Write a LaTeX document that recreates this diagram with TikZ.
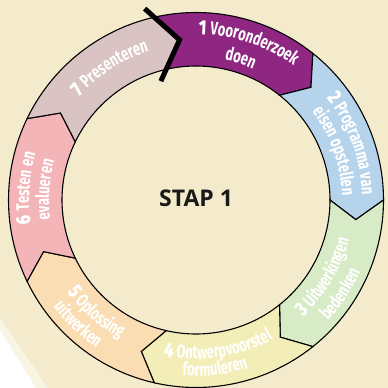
\documentclass[tikz,border=0pt]{standalone}
\usepackage{fontspec}
\setmainfont{Open Sans}
\newfontfamily\condf[FakeStretch=0.7]{Fira Sans}
\newfontfamily\condn[FakeStretch=0.8,BoldFeatures={FakeBold=1.2}]{Fira Sans}
\usetikzlibrary{decorations.text,calc}
\definecolor{bg}{HTML}{F3EBCC}
\definecolor{c1}{HTML}{8E2682}
\definecolor{c2}{HTML}{B5D4EC}
\definecolor{c3}{HTML}{D6EBC6}
\definecolor{c4}{HTML}{F3EEB8}
\definecolor{c5}{HTML}{FADDB3}
\definecolor{c6}{HTML}{F4B5B9}
\definecolor{c7}{HTML}{D9C3C3}
\newcommand\stepnum{\condn\bfseries\fontsize{20}{20}\selectfont}
\newcommand\steptxt{\condf\bfseries\fontsize{18.5}{18.5}\selectfont}
\newcommand\cwtext[3]{\path[decorate,decoration={text along path,text color=white,text align=center,text={#3}}] ({#1+45}:#2) arc[start angle={#1+45},end angle={#1-45},radius=#2];}
\newcommand\ccwtext[3]{\path[decorate,decoration={text along path,text color=white,text align=center,text={#3}}] ({#1-45}:#2) arc[start angle={#1-45},end angle={#1+45},radius=#2];}
\tikzset{segline/.style={draw=black,line width=1.1pt,line join=miter}}
\begin{document}
\begin{tikzpicture}[x=1pt,y=1pt]
\useasboundingbox (-196,-188) rectangle (192,200);
\fill[bg] (-196,-188) rectangle (192,200);
% white paper corner
\fill[white,opacity=0.5] (-196,-118) -- (-148,-188) -- (-196,-188) -- cycle;
\fill[white] (-196,-130) -- (-160,-188) -- (-196,-188) -- cycle;
% ring segments
\def\Ro{187.5}\def\Ri{134}\def\Rm{161}
\foreach \c [count=\i] in {c1,c2,c3,c4,c5,c6,c7}{
  \pgfmathsetmacro\s{102.86-51.43*(\i-1)}
  \pgfmathsetmacro\e{\s-51.43}
  \path[segline,fill=\c] (\s:\Ro) arc[start angle=\s,end angle=\e,radius=\Ro]
    -- ({\e-7}:\Rm) -- (\e:\Ri) arc[start angle=\e,end angle=\s,radius=\Ri]
    -- ({\s-7}:\Rm) -- cycle;
}
% black marker at start
\coordinate (tip) at (95.86:\Rm);
\coordinate (bo) at (102.86:\Ro);
\coordinate (bi) at (102.86:\Ri);
\draw[line width=5pt,line join=miter] ($(tip)!1.38!(bo)$) -- (tip) -- ($(tip)!1.4!(bi)$);
% labels
\cwtext{71.5}{166}{|\stepnum|1 |\steptxt|Vooronderzoek}
\cwtext{72.5}{143}{|\steptxt|doen}
\cwtext{20}{166}{|\stepnum|2 |\steptxt|Programma van}
\cwtext{19.6}{146}{|\steptxt|eisen opstellen}
\ccwtext{-31}{158}{|\stepnum|3 |\steptxt|Uitwerkingen}
\ccwtext{-33}{179}{|\steptxt|bedenken}
\ccwtext{-81.4}{159}{|\stepnum|4 |\steptxt|Ontwerpvoorstel}
\ccwtext{-83.6}{176}{|\steptxt|formuleren}
\ccwtext{-131.7}{158}{|\stepnum|5 |\steptxt|Oplossing}
\ccwtext{-133.6}{178}{|\steptxt|uitwerken}
\cwtext{176}{167}{|\stepnum|6 |\steptxt|Testen en}
\cwtext{176}{147}{|\steptxt|evalueren}
\cwtext{123}{156}{|\stepnum|7 |\steptxt|Presenteren}
\node[text=black!90] (stap) at (0,2) {\fontsize{23}{23}\selectfont\bfseries STAP 1};
\end{tikzpicture}
\end{document}
